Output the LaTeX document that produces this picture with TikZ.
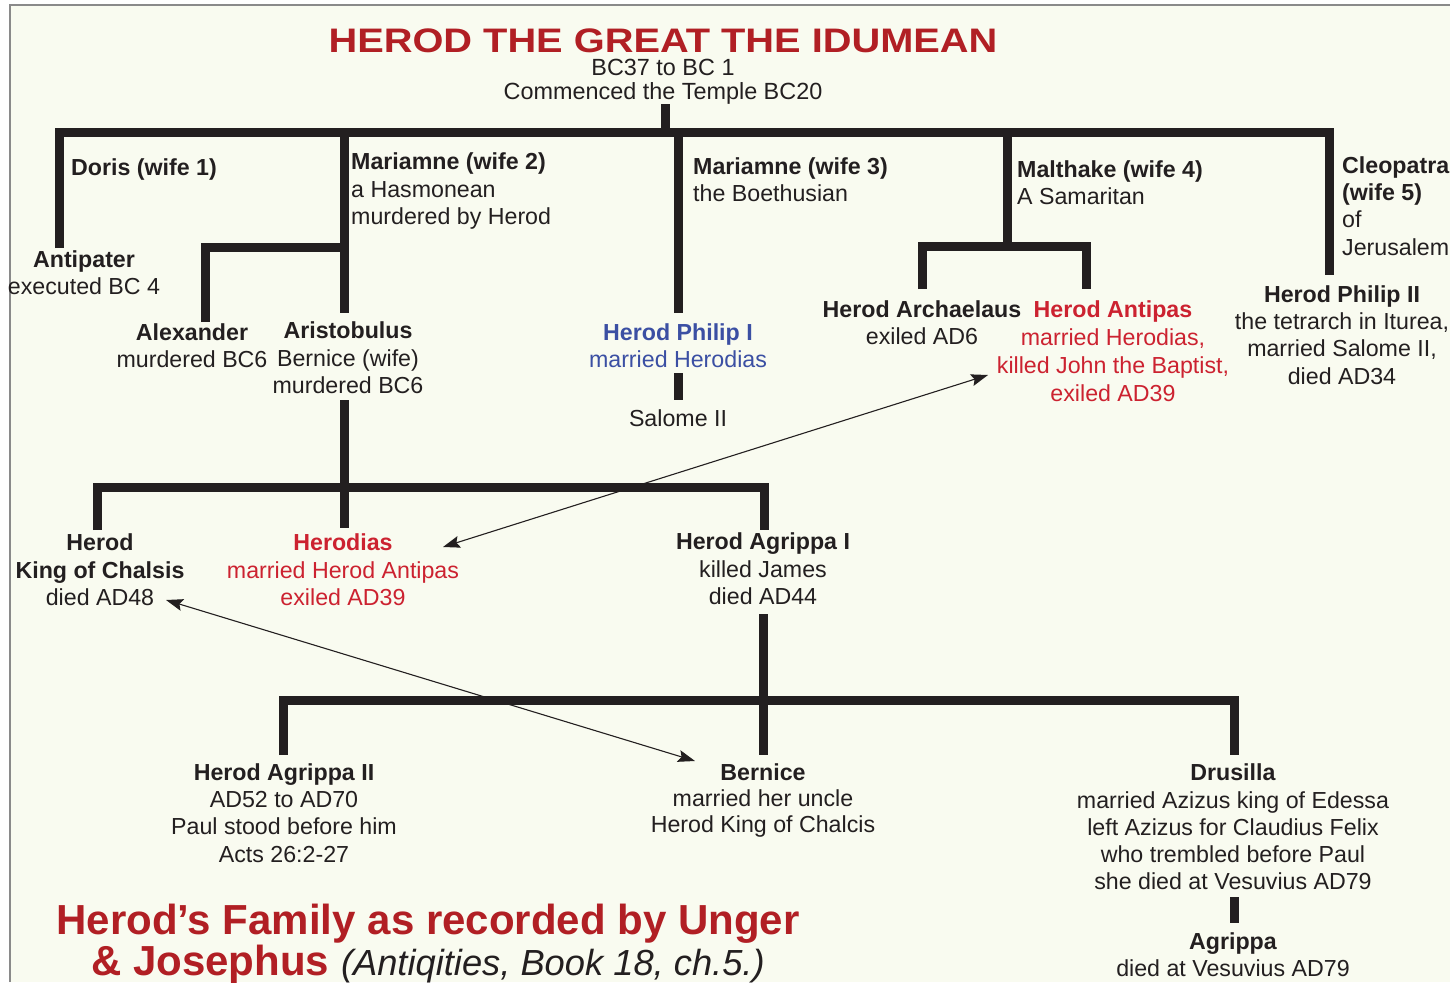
\documentclass[tikz,border=0pt]{standalone}
\usepackage{fontspec}
\setmainfont{Liberation Sans}
\usetikzlibrary{arrows.meta}
\definecolor{bg}{HTML}{F9FBF0}
\definecolor{ink}{HTML}{231F20}
\definecolor{frame}{HTML}{8A8A8A}
\definecolor{titlered}{HTML}{B11F24}
\definecolor{brightred}{HTML}{CC2230}
\definecolor{philblue}{HTML}{3B4FA3}
\tikzset{
  bar/.style={line width=9pt, draw=ink, line join=miter, line cap=butt},
  txt/.style={font=\fontsize{23.2}{27.3}\selectfont, text=ink, inner sep=0pt, align=center},
  ltxt/.style={txt, align=left, anchor=west},
  redtxt/.style={txt, text=brightred},
  bluetxt/.style={txt, text=philblue},
  dbl/.style={{Stealth[length=17pt,width=12pt,inset=3pt]}-{Stealth[length=17pt,width=12pt,inset=3pt]}, line width=1.1pt, draw=ink},
}
\begin{document}
\begin{tikzpicture}[x=1pt,y=-1pt]
\useasboundingbox (0,0) rectangle (1450,982);
\fill[bg] (10,5) rectangle (1450,982);
\draw[frame, line width=1.2pt] (10,982) -- (10,5) -- (1450,5);

% ---------- coordinates of the tree ----------
\coordinate (stubT) at (665,104);
\coordinate (stubB) at (665,132);
\coordinate (dorisB) at (59.5,248);
\coordinate (dorisT) at (59.5,132);
\coordinate (cleoT) at (1329,132);
\coordinate (cleoB) at (1329,275);
\coordinate (w2T) at (344,132);
\coordinate (w2B) at (344,313);
\coordinate (w2J) at (344,247);
\coordinate (alexT) at (205.5,247);
\coordinate (alexB) at (205.5,322);
\coordinate (w3T) at (678,132);
\coordinate (w3B) at (678,313);
\coordinate (w4T) at (1007,132);
\coordinate (w4B) at (1007,246);
\coordinate (archT) at (922,246);
\coordinate (archB) at (922,289);
\coordinate (antT) at (1086,246);
\coordinate (antB) at (1086,289);
\coordinate (philT) at (678,373);
\coordinate (philB) at (678,400);
\coordinate (ariT) at (344,400);
\coordinate (ariB) at (344,528);
\coordinate (hkB) at (97.5,530);
\coordinate (hkT) at (97.5,487);
\coordinate (a1T) at (764,487);
\coordinate (a1B) at (764,530);
\coordinate (ag1T) at (763,614);
\coordinate (ag1B) at (763,755);
\coordinate (ag2B) at (283,755);
\coordinate (ag2T) at (283,700);
\coordinate (druT) at (1234,700);
\coordinate (druB) at (1234,755);
\coordinate (dru2T) at (1234,897);
\coordinate (dru2B) at (1234,923);

% ---------- tree lines ----------
\draw[bar] (stubT) -- (stubB);
\draw[bar] (dorisB) -- (dorisT) -- (cleoT) -- (cleoB);
\draw[bar] (w2T) -- (w2B);
\draw[bar] (alexB) -- (alexT) -- (w2J);
\draw[bar] (w3T) -- (w3B);
\draw[bar] (w4T) -- (w4B);
\draw[bar] (archB) -- (archT) -- (antT) -- (antB);
\draw[bar] (philT) -- (philB);
\draw[bar] (ariT) -- (ariB);
\draw[bar] (hkB) -- (hkT) -- (a1T) -- (a1B);
\draw[bar] (ag1T) -- (ag1B);
\draw[bar] (ag2B) -- (ag2T) -- (druT) -- (druB);
\draw[bar] (dru2T) -- (dru2B);

% ---------- texts ----------
\node[inner sep=0pt, text=titlered, font=\fontsize{34}{40}\bfseries] (title) at (663,41) {\scalebox{1.17}[1]{HEROD THE GREAT THE IDUMEAN}};
\node[txt, font=\fontsize{23.4}{24}\selectfont] (reign) at (663,82) {BC37 to BC 1\\Commenced the Temple BC20};

\node[ltxt] (doris) at (71,169) {\textbf{Doris (wife 1)}};
\node[txt] (antipater) at (84,273) {\textbf{Antipater}\\executed BC 4};
\node[ltxt] (mar2) at (351,191) {\textbf{Mariamne (wife 2)}\\a Hasmonean\\murdered by Herod};
\node[txt] (alexander) at (192,346) {\textbf{Alexander}\\murdered BC6};
\node[txt] (aristobulus) at (348,358) {\textbf{Aristobulus}\\Bernice (wife)\\murdered BC6};
\node[ltxt] (mar3) at (693,179.5) {\textbf{Mariamne (wife 3)}\\the Boethusian};
\node[bluetxt] (philip1) at (678,346) {\textbf{Herod Philip I}\\married Herodias};
\node[txt] (salome) at (678,418.5) {Salome II};
\node[ltxt] (malthake) at (1017,182.5) {\textbf{Malthake (wife 4)}\\A Samaritan};
\node[txt] (archelaus) at (922,323) {\textbf{Herod Archaelaus}\\exiled AD6};
\node[redtxt, font=\fontsize{23.2}{28}\selectfont] (antipas) at (1113,351) {\textbf{Herod Antipas}\\married Herodias,\\killed John the Baptist,\\exiled AD39};
\node[ltxt] (cleopatra) at (1342,206) {\textbf{Cleopatra}\\\textbf{(wife 5)}\\of\\Jerusalem};
\node[txt] (philip2) at (1342,335) {\textbf{Herod Philip II}\\the tetrarch in Iturea,\\married Salome II,\\died AD34};
\node[txt] (herodk) at (100,570) {\textbf{Herod}\\\textbf{King of Chalsis}\\died AD48};
\node[redtxt] (herodias) at (343,570) {\textbf{Herodias}\\married Herod Antipas\\exiled AD39};
\node[txt] (agrippa1) at (763,569) {\textbf{Herod Agrippa I}\\killed James\\died AD44};
\node[txt] (agrippa2) at (284,813) {\textbf{Herod Agrippa II}\\AD52 to AD70\\Paul stood before him\\Acts 26:2-27};
\node[txt, font=\fontsize{23.2}{26}\selectfont] (bernice) at (763,800) {\textbf{Bernice}\\married her uncle\\Herod King of Chalcis};
\node[txt] (drusilla) at (1233,827) {\textbf{Drusilla}\\married Azizus king of Edessa\\left Azizus for Claudius Felix\\who trembled before Paul\\she died at Vesuvius AD79};
\node[txt] (agrippa) at (1233,954.5) {\textbf{Agrippa}\\died at Vesuvius AD79};

\node[inner sep=0pt, align=center, text=titlered, font=\fontsize{42}{41}\bfseries] (caption) at (428,944)
  {Herod’s Family as recorded by Unger\\\& Josephus {\mdseries\itshape\color{ink}\fontsize{36.3}{41}\selectfont (Antiqities, Book 18, ch.5.)}};

% ---------- cross-reference arrows ----------
\coordinate (antipasTip) at (988,375);
\coordinate (herodiasTip) at (443,547);
\coordinate (herodkTip) at (166,600);
\coordinate (berniceTip) at (695,761);
\draw[dbl] (herodiasTip) -- (antipasTip);
\draw[dbl] (herodkTip) -- (berniceTip);
\end{tikzpicture}
\end{document}
